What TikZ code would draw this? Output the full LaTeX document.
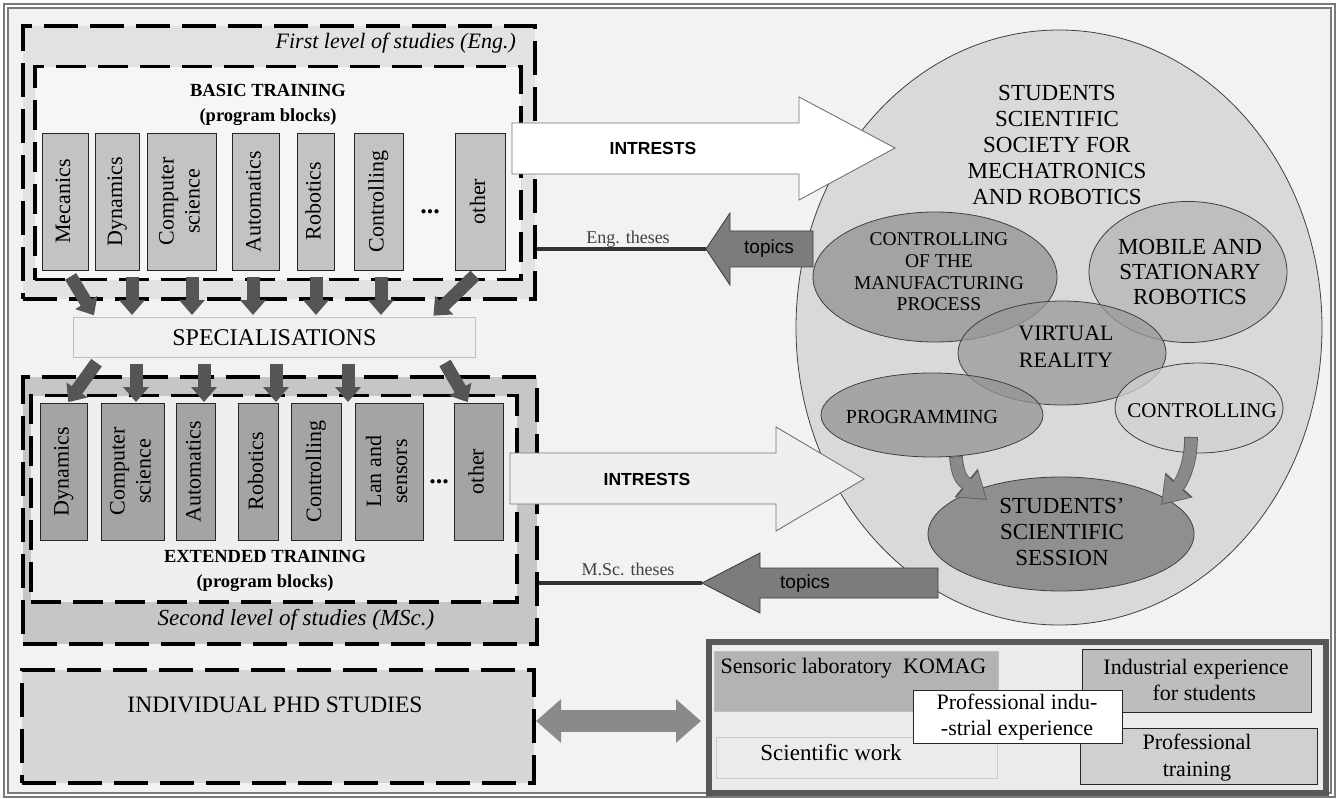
\documentclass[tikz,border=0pt]{standalone}
\usepackage{fontspec}
\usepackage{graphicx}
\setmainfont{Liberation Serif}
\newfontfamily\sansf{Liberation Sans}
\usetikzlibrary{shapes.geometric,arrows.meta,calc}
\newcommand\myfs[2]{\fontsize{#1pt}{#2pt}\selectfont}
\newcommand\rt[1]{\rotatebox{90}{\begin{tabular}{@{}c@{}}#1\end{tabular}}}
\definecolor{bgc}{HTML}{F2F2F2}
\definecolor{framec}{HTML}{7A7A7A}
\definecolor{lvlAc}{HTML}{E2E2E2}
\definecolor{basAc}{HTML}{F6F6F6}
\definecolor{lvlBc}{HTML}{C6C6C6}
\definecolor{basBc}{HTML}{EFEFEF}
\definecolor{blkAc}{HTML}{C3C3C3}
\definecolor{blkBc}{HTML}{A4A4A4}
\definecolor{darkarr}{HTML}{555555}
\definecolor{specc}{HTML}{F0F0F0}
\definecolor{bigc}{HTML}{D9D9D9}
\definecolor{cmpc}{HTML}{919191}
\definecolor{mobc}{HTML}{B5B5B5}
\definecolor{vrc}{HTML}{999999}
\definecolor{progc}{HTML}{949494}
\definecolor{ctrlc}{HTML}{D2D2D2}
\definecolor{sessc}{HTML}{8F8F8F}
\definecolor{curvc}{HTML}{8A8A8A}
\definecolor{topc}{HTML}{7C7C7C}
\definecolor{phdc}{HTML}{D6D6D6}
\definecolor{rbc}{HTML}{EBEBEB}
\definecolor{rbframe}{HTML}{585858}
\definecolor{sensc}{HTML}{B3B3B3}
\definecolor{indc}{HTML}{BDBDBD}
\definecolor{prtc}{HTML}{D0D0D0}
\begin{document}
\begin{tikzpicture}[x=1pt,y=-1pt,
  dbox/.style={draw=black, line width=4pt, dash pattern=on 34pt off 12pt, inner sep=0pt, anchor=north west},
  dboxi/.style={dbox, line width=3.5pt, dash pattern=on 30pt off 12pt},
  blkA/.style={draw=black!85, line width=0.9pt, fill=blkAc, inner sep=0pt, font=\myfs{22}{26}},
  blkB/.style={blkA, fill=blkBc},
  downarr/.style={line width=13pt, draw=darkarr, -{Triangle[width=25pt,length=15pt]}},
  curvout/.style={line width=13.6pt, draw=black!65, -{Triangle[width=35pt,length=27pt]}},
  curvarr/.style={line width=12pt, draw=curvc, -{Triangle[width=31pt,length=23.5pt]}},
  dblarr/.style={line width=22pt, draw=curvc, {Triangle[width=42pt,length=25pt]}-{Triangle[width=42pt,length=25pt]}},
  ell/.style={ellipse, draw=black!75, line width=0.8pt, inner sep=0pt},
  tell/.style={ell, fill opacity=0.75, text opacity=1, draw opacity=1},
  rbox/.style={inner sep=0pt, anchor=north west},
  thl/.style={line width=4pt, draw=black!80},
  bigarr/.style={draw=black!55, line width=0.9pt},
  toparr/.style={draw=black!75, line width=0.9pt, fill=topc}
]
\useasboundingbox (0,0) rectangle (1339,799);
\fill[white] (0,0) rectangle (1339,799);
\draw[framec, line width=1.5pt, fill=white] (4,4) rectangle (1335,797);
\draw[framec, line width=1.5pt, fill=bgc] (8,8) rectangle (1331,793);

% ---- first level ----
\node[dbox, fill=lvlAc, minimum width=512pt, minimum height=273pt] (lvl1) at (21,24) {};
\node[dboxi, fill=basAc, minimum width=486pt, minimum height=213pt] (basic) at (33,65) {};
\node[font=\itshape\myfs{22}{24}, anchor=east, inner sep=0pt] (lvl1t) at (516,43) {First level of studies (Eng.)};
\node[font=\bfseries\myfs{18.5}{25}, align=center] (basict) at (268,104.5) {BASIC TRAINING\\(program blocks)};

\node[blkA, minimum width=46pt, minimum height=137pt] (b1) at (65,201.5) {\rt{Mecanics}};
\node[blkA, minimum width=44pt, minimum height=137pt] (b2) at (117,201.5) {\rt{Dynamics}};
\node[blkA, minimum width=69pt, minimum height=137pt] (b3) at (181.5,201.5) {\rt{Computer\\science}};
\node[blkA, minimum width=47pt, minimum height=137pt] (b4) at (255.5,201.5) {\rt{Automatics}};
\node[blkA, minimum width=37pt, minimum height=137pt] (b5) at (315.5,201.5) {\rt{Robotics}};
\node[blkA, minimum width=49pt, minimum height=137pt] (b6) at (378.5,201.5) {\rt{Controlling}};
\node[blkA, minimum width=50pt, minimum height=137pt] (b7) at (480,201.5) {\rt{other}};
\node[font=\bfseries\myfs{26}{26}, inner sep=0pt] (dots1) at (430,212) {...};

% ---- second level ----
\node[dbox, fill=lvlBc, minimum width=514pt, minimum height=267pt] (lvl2) at (21,375) {};
\node[dboxi, fill=basBc, minimum width=486pt, minimum height=206pt] (ext) at (29,394) {};
\node[font=\itshape\myfs{23}{25}] (lvl2t) at (296,620) {Second level of studies (MSc.)};
\node[font=\bfseries\myfs{18.5}{25}, align=center] (extt) at (265,570.5) {EXTENDED TRAINING\\(program blocks)};

\node[blkB, minimum width=47pt, minimum height=137pt] (c1) at (63.5,471.5) {\rt{Dynamics}};
\node[blkB, minimum width=63pt, minimum height=137pt] (c2) at (132.5,471.5) {\rt{Computer\\science}};
\node[blkB, minimum width=39pt, minimum height=137pt] (c3) at (195.5,471.5) {\rt{Automatics}};
\node[blkB, minimum width=40pt, minimum height=137pt] (c4) at (258,471.5) {\rt{Robotics}};
\node[blkB, minimum width=50pt, minimum height=137pt] (c5) at (316,471.5) {\rt{Controlling}};
\node[blkB, minimum width=68pt, minimum height=137pt] (c6) at (389,471.5) {\rt{Lan and\\sensors}};
\node[blkB, minimum width=49pt, minimum height=137pt] (c7) at (478.5,471.5) {\rt{other}};
\node[font=\bfseries\myfs{26}{26}, inner sep=0pt] (dots2) at (439,482) {...};

% ---- specialisations ----
\node[rbox, draw=black!25, line width=0.8pt, fill=specc, minimum width=402pt, minimum height=40pt, font=\myfs{24}{26}] (spec) at (73,317) {SPECIALISATIONS};

% arrows blocks -> specialisations
\draw[downarr, shorten <=7pt, shorten >=2pt] ([xshift=2pt]b1.south) -- ([xshift=22pt]spec.north west);
\coordinate (ta2) at ([xshift=15pt]b2.south);
\coordinate (ta3) at ([xshift=10.5pt]b3.south);
\coordinate (ta4) at ([xshift=-2.5pt]b4.south);
\coordinate (ta5) at ([xshift=0.5pt]b5.south);
\coordinate (ta6) at ([xshift=2.5pt]b6.south);
\foreach \t in {ta2,ta3,ta4,ta5,ta6}{
  \draw[downarr, shorten <=7pt, shorten >=2pt] (\t) -- (\t |- spec.north);
}
\draw[downarr, shorten <=7pt, shorten >=2pt] (b7.south) -- ([xshift=359pt]spec.north west);

% arrows specialisations -> blocks
\draw[downarr, shorten <=6pt, shorten >=0.5pt] ([xshift=27pt]spec.south west) -- ([xshift=4.5pt]c1.north);
\coordinate (tb2) at ([xshift=3.5pt]c2.north);
\coordinate (tb3) at ([xshift=8.5pt]c3.north);
\coordinate (tb4) at ([xshift=18pt]c4.north);
\coordinate (tb5) at ([xshift=32pt]c5.north);
\foreach \t in {tb2,tb3,tb4,tb5}{
  \draw[downarr, shorten <=6pt, shorten >=0.5pt] (\t |- spec.south) -- (\t);
}
\draw[downarr, shorten <=6pt, shorten >=0.5pt] ([xshift=369pt]spec.south west) -- ([xshift=-10.5pt]c7.north);

% ---- society ellipse ----
\node[ell, fill=bigc, minimum width=526pt, minimum height=595pt] (sss) at (1059,327.5) {};
\node[font=\myfs{23}{26}, align=center] (ssst) at (1057,145) {STUDENTS\\SCIENTIFIC\\SOCIETY FOR\\MECHATRONICS\\AND ROBOTICS};

\node[tell, fill=cmpc, minimum width=244pt, minimum height=130pt] (cmp) at (935,277) {};
\node[tell, fill=mobc, minimum width=198pt, minimum height=141pt] (mob) at (1188,272) {};
\node[tell, fill=vrc, minimum width=208pt, minimum height=104pt] (vr) at (1062,353) {};
\node[tell, fill=progc, minimum width=222pt, minimum height=84pt] (prog) at (932,415) {};
\node[tell, fill=ctrlc, minimum width=168pt, minimum height=90pt] (ctrl) at (1199,408) {};
\node[ell, fill=sessc, minimum width=266pt, minimum height=114pt] (sess) at (1061,534) {};

\node[font=\myfs{19.5}{21.7}, align=center] (cmpt) at (939,272) {CONTROLLING\\OF THE\\MANUFACTURING\\PROCESS};
\node[font=\myfs{23}{25.5}, align=center] (mobt) at (1190,272) {MOBILE AND\\STATIONARY\\ROBOTICS};
\node[font=\myfs{22}{27}, align=center] (vrt) at (1066,347) {VIRTUAL\\REALITY};
\node[font=\myfs{20}{22}] (progt) at (922,417) {PROGRAMMING};
\node[font=\myfs{21}{22}] (ctrlt) at (1202,411) {CONTROLLING};
\node[font=\myfs{23}{26}, align=center] (sesst) at (1062,532) {STUDENTS'\\SCIENTIFIC\\SESSION};

\draw[curvout] (prog.-60) .. controls +(2,24) and +(-22,-18) .. ([shift={(-74,-34)}]sess.center);
\draw[curvarr, shorten <=0.8pt, shorten >=1.6pt] (prog.-60) .. controls +(2,24) and +(-22,-18) .. ([shift={(-74,-34)}]sess.center);
\draw[curvout] ([shift={(-8,29)}]ctrl.center) .. controls +(0,32) and +(18,-20) .. ([shift={(100,-29)}]sess.center);
\draw[curvarr, shorten <=0.8pt, shorten >=1.6pt] ([shift={(-8,29)}]ctrl.center) .. controls +(0,32) and +(18,-20) .. ([shift={(100,-29)}]sess.center);

% ---- INTRESTS arrows ----
\draw[bigarr, fill=white] (512,123) -- (799,123) -- (799,97) -- (895,148) -- (799,200) -- (799,174) -- (512,174) -- cycle;
\node[font=\sansf\bfseries\myfs{17.5}{20}] (int1) at (653,148) {INTRESTS};
\draw[bigarr, fill=basBc] (510,453) -- (776,453) -- (776,427) -- (864,479) -- (776,531) -- (776,504) -- (510,504) -- cycle;
\node[font=\sansf\bfseries\myfs{17.5}{20}] (int2) at (647,479) {INTRESTS};

% ---- topics arrows ----
\coordinate (tp1) at (706,249);
\draw[toparr] (813,231) -- (730,231) -- (730,213) -- (tp1) -- (730,285) -- (730,267) -- (813,267) -- cycle;
\node[font=\sansf\myfs{19}{22}] (top1) at (769,249) {topics};
\draw[thl] (lvl1.east |- tp1) -- (tp1);
\node[font=\myfs{18}{20}, text=black!75] (engt) at (628,239) {Eng. theses};

\coordinate (tp2) at (702,583);
\draw[toparr] (938,568) -- (760,568) -- (760,553) -- (tp2) -- (760,613) -- (760,598) -- (938,598) -- cycle;
\node[font=\sansf\myfs{19}{22}] (top2) at (805,584) {topics};
\draw[thl] (lvl2.east |- tp2) -- (tp2);
\node[font=\myfs{18}{20}, text=black!75] (msct) at (628,569) {M.Sc. theses};

% ---- PhD ----
\node[dbox, fill=phdc, minimum width=512pt, minimum height=113pt] (phd) at (20,668) {};
\node[font=\myfs{23.5}{26}] (phdt) at (275,705) {INDIVIDUAL PHD STUDIES};

% ---- bottom right ----
\node[rbox, draw=rbframe, line width=6pt, fill=rbc, minimum width=617pt, minimum height=151pt] (rb) at (706,639) {};
\node[rbox, draw=black!25, line width=0.6pt, fill=sensc, minimum width=284pt, minimum height=60pt] (sens) at (714,651) {};
\node[font=\myfs{22}{24}, anchor=west] (senst) at (717,668) {Sensoric laboratory\ \ KOMAG};
\node[rbox, draw=black!20, line width=0.8pt, fill=rbc, minimum width=281pt, minimum height=41pt] (sci) at (716,737) {};
\node[font=\myfs{23}{25}] (scit) at (831,753) {Scientific work};
\node[rbox, draw=black!85, line width=0.9pt, fill=indc, minimum width=229pt, minimum height=63pt] (ind) at (1082,649) {};
\node[font=\myfs{22}{26}, align=center] (indt) at (1196,680) {Industrial experience\\\ \ \ for students};
\node[rbox, draw=black!85, line width=0.9pt, fill=prtc, minimum width=237pt, minimum height=56pt] (prt) at (1080,728) {};
\node[font=\myfs{22}{27}, align=center] (prtt) at (1197,758) {Professional\\training};
\node[rbox, draw=black!85, line width=0.9pt, fill=white, minimum width=209pt, minimum height=53pt] (pie) at (913,690) {};
\node[font=\myfs{22}{26}, align=center] (piet) at (1017,717) {Professional indu-\\-strial experience};

% double arrow
\coordinate (dA) at ([yshift=5.5pt]phd.east);
\draw[dblarr, shorten >=5pt] (dA) -- (dA -| rb.west);
\end{tikzpicture}
\end{document}
